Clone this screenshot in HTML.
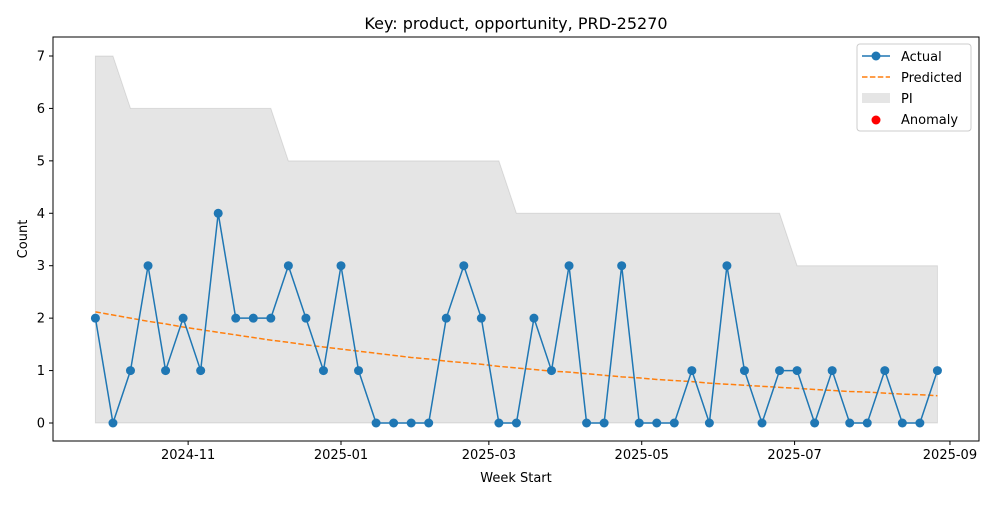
<!DOCTYPE html>
<html><head><meta charset="utf-8"><style>
body{margin:0;background:#fff;font-family:"Liberation Sans","DejaVu Sans",sans-serif}
svg text{font-family:"DejaVu Sans","Liberation Sans",sans-serif;fill:#000}
</style></head><body>
<svg id="c" width="1000" height="500" xmlns="http://www.w3.org/2000/svg"></svg>
<script>
const actual=[2,0,1,3,1,2,1,4,2,2,2,3,2,1,3,1,0,0,0,0,2,3,2,0,0,2,1,3,0,0,3,0,0,0,1,0,3,1,0,1,1,0,1,0,0,1,0,0,1];
const predicted=[2.12,2.06,2.00,1.94,1.89,1.83,1.78,1.73,1.68,1.63,1.58,1.54,1.49,1.45,1.41,1.37,1.33,1.29,1.25,1.22,1.18,1.15,1.12,1.08,1.05,1.02,0.99,0.97,0.94,0.91,0.88,0.86,0.83,0.81,0.79,0.76,0.74,0.72,0.70,0.68,0.66,0.64,0.62,0.60,0.59,0.57,0.55,0.54,0.52];
const piUpper=[7,7,6,6,6,6,6,6,6,6,6,5,5,5,5,5,5,5,5,5,5,5,5,5,4,4,4,4,4,4,4,4,4,4,4,4,4,4,4,4,3,3,3,3,3,3,3,3,3];
const piLower=actual.map(()=>0);
const startDay=-98; // days relative to 2025-01-01
const xTickLabels=["2024-11","2025-01","2025-03","2025-05","2025-07","2025-09"];
const xTickDays=[-61,0,59,120,181,243];
const yTicks=[0,1,2,3,4,5,6,7];

const svg=document.getElementById('c');const NS='http://www.w3.org/2000/svg';
function mk(t,a,p){const e=document.createElementNS(NS,t);for(const k in a)e.setAttribute(k,a[k]);(p||svg).appendChild(e);return e;}
const L=53,R=979,T=37,B=441;
const x=d=>341+d*2.506;
const y=v=>423-v*52.43;
const dayOf=i=>startDay+i*7;

const bg=mk('rect',{x:L,y:T,width:R-L,height:B-T,fill:'#fff',stroke:'#000','stroke-width':1});



let pts=actual.map((_,i)=>x(dayOf(i))+','+y(piUpper[i]));
for(let i=actual.length-1;i>=0;i--)pts.push(x(dayOf(i))+','+y(piLower[i]));
const pi=mk('polygon',{points:pts.join(' '),fill:'#000','fill-opacity':0.1,stroke:'#000','stroke-opacity':0.1});



const pl=mk('polyline',{points:predicted.map((v,i)=>x(dayOf(i))+','+y(v)).join(' '),fill:'none',stroke:'#ff7f0e','stroke-width':1.5,'stroke-dasharray':'5.5,2.4'});



const al=mk('polyline',{points:actual.map((v,i)=>x(dayOf(i))+','+y(v)).join(' '),fill:'none',stroke:'#1f77b4','stroke-width':1.5});


actual.forEach((v,i)=>{const c=mk('circle',{cx:x(dayOf(i)),cy:y(v),r:4.5,fill:'#1f77b4'});

});

yTicks.forEach(v=>{mk('line',{x1:L-4,x2:L,y1:y(v),y2:y(v),stroke:'#000'});
const t=mk('text',{x:L-8,y:y(v)+4.5,'text-anchor':'end','font-size':13});t.textContent=v;

});
xTickDays.forEach((d,i)=>{mk('line',{x1:x(d),x2:x(d),y1:B,y2:B+4,stroke:'#000'});
const t=mk('text',{x:x(d),y:B+18,'text-anchor':'middle','font-size':13});t.textContent=xTickLabels[i];

});

const tt=mk('text',{x:516,y:29,'text-anchor':'middle','font-size':16});tt.textContent='Key: product, opportunity, PRD-25270';


const xt=mk('text',{x:516,y:482,'text-anchor':'middle','font-size':13});xt.textContent='Week Start';


const yt=mk('text',{x:27,y:239,'text-anchor':'middle','font-size':13,transform:'rotate(-90 27 239)'});yt.textContent='Count';



const lg=mk('g',{});


mk('rect',{x:857,y:44,width:114,height:87,rx:3,fill:'#fff',stroke:'#ccc'},lg);
mk('line',{x1:862,x2:890,y1:56,y2:56,stroke:'#1f77b4','stroke-width':1.5},lg);
mk('circle',{cx:876,cy:56,r:4.5,fill:'#1f77b4'},lg);
mk('line',{x1:862,x2:890,y1:77,y2:77,stroke:'#ff7f0e','stroke-width':1.5,'stroke-dasharray':'5.5,2.4'},lg);
mk('rect',{x:862,y:93,width:28,height:10,fill:'#e5e5e5'},lg);
mk('circle',{cx:876,cy:120,r:4.5,fill:'red'},lg);
[['Actual',61],['Predicted',82],['PI',103],['Anomaly',124]].forEach(([s,yy])=>{const t=mk('text',{x:901,y:yy,'font-size':13},lg);t.textContent=s;

});
</script>
</body></html>
